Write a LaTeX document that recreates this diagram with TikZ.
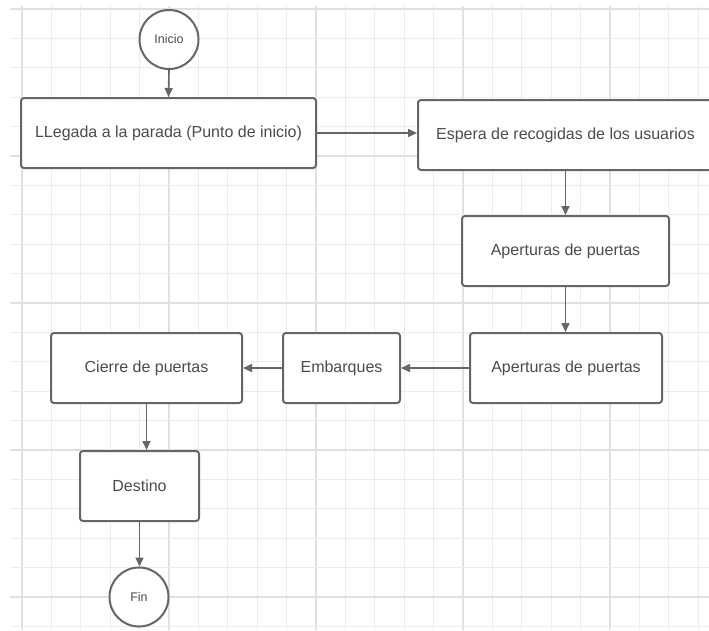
\documentclass[tikz,border=0pt]{standalone}
\usepackage{fontspec}
\setmainfont{Liberation Sans}
\usetikzlibrary{arrows.meta}
\definecolor{gridminor}{RGB}{236,236,236}
\definecolor{gridmajor}{RGB}{224,224,224}
\definecolor{edge}{RGB}{102,102,102}
\definecolor{ink}{RGB}{76,76,76}
\tikzset{
  stepbox/.style={draw=edge, line width=2pt, rounded corners=3pt, fill=white,
    minimum height=70pt, inner sep=0pt, text=ink,
    font=\fontsize{16}{19}\selectfont},
  terminal/.style={circle, draw=edge, line width=2pt, fill=white,
    minimum size=59pt, inner sep=0pt, text=ink,
    font=\fontsize{12.5}{15}\selectfont},
  flow/.style={draw=edge, line width=1.6pt,
    -{Triangle[length=9pt,width=8pt]}},
}
\begin{document}
\begin{tikzpicture}[x=1pt,y=-1pt]
  \clip (0,0) rectangle (709,630);
  \fill[white] (0,0) rectangle (709,630);

  % background grid, a slightly darker line every fifth cell
  \foreach \k in {0,...,23}{
    \pgfmathsetmacro{\gx}{22+29.4*\k}
    \pgfmathtruncatemacro{\m}{mod(\k,5)}
    \ifnum\m=0
      \draw[gridmajor, line width=1.4pt] (\gx,6) -- (\gx,630);
    \else
      \draw[gridminor, line width=1.3pt] (\gx,6) -- (\gx,630);
    \fi
  }
  \foreach \j in {0,...,21}{
    \pgfmathsetmacro{\gy}{9+29.4*\j}
    \pgfmathtruncatemacro{\m}{mod(\j,5)}
    \ifnum\m=0
      \draw[gridmajor, line width=1.4pt] (10,\gy) -- (709,\gy);
    \else
      \draw[gridminor, line width=1.3pt] (10,\gy) -- (709,\gy);
    \fi
  }

  % flowchart nodes
  \node[terminal] (inicio) at (169,39.5) {Inicio};
  \node[stepbox, minimum width=295pt] (llegada) at (168.5,133) {LLegada a la parada (Punto de inicio)};
  \node[stepbox, minimum width=295pt] (espera) at (565.5,135) {Espera de recogidas de los usuarios};
  \node[stepbox, minimum width=207pt] (apert1) at (565.5,251) {Aperturas de puertas};
  \node[stepbox, minimum width=192pt] (apert2) at (566,368) {Aperturas de puertas};
  \node[stepbox, minimum width=117pt] (embarq) at (341.5,368) {Embarques};
  \node[stepbox, minimum width=191pt] (cierre) at (146.5,368) {Cierre de puertas};
  \node[stepbox, minimum width=119pt] (destino) at (139.5,486) {Destino};
  \node[terminal] (fin) at (139,597) {Fin};

  % connectors
  \draw[flow] (inicio.south) -- (llegada.north);
  \draw[flow] (llegada.east) -- (llegada.east -| espera.west);
  \draw[flow] (espera.south) -- (apert1.north);
  \draw[flow] (apert1.south) -- (apert1.south |- apert2.north);
  \draw[flow] (apert2.west) -- (embarq.east);
  \draw[flow] (embarq.west) -- (cierre.east);
  \draw[flow] (cierre.south) -- (cierre.south |- destino.north);
  \draw[flow] (destino.south) -- (destino.south |- fin.north);
\end{tikzpicture}
\end{document}
